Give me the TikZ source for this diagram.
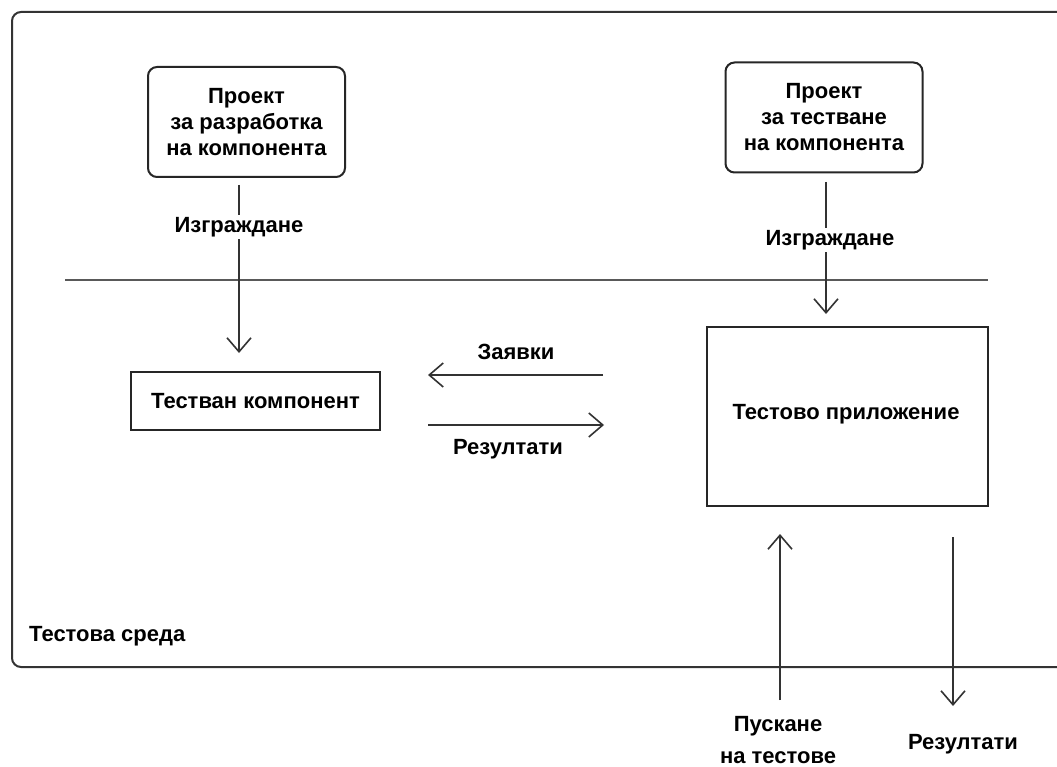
\documentclass[tikz,border=0pt]{standalone}
\usepackage{fontspec}
\setmainfont{Liberation Sans}
\usetikzlibrary{arrows.meta}
\begin{document}
\begin{tikzpicture}[x=1pt,y=-1pt,
  txt/.style={font=\fontsize{22}{26}\selectfont\bfseries, align=center, inner sep=2pt},
  proj/.style={txt, draw=black!85, line width=2pt, rounded corners=9pt, minimum width=197pt, minimum height=110pt},
  blk/.style={txt, draw=black!85, line width=2pt},
  conn/.style={line width=1.6pt, black!80},
  arr/.style={conn, -{Straight Barb[length=14pt, width=24pt, line width=1.6pt]}},
  lbl/.style={txt, fill=white}]
\clip (0,0) rectangle (1057,767);
\fill[white] (0,0) rectangle (1057,767);

% environment frame and separator
\draw[line width=2pt, black!80, rounded corners=9pt] (12,12) rectangle (1080,667);
\draw[line width=2.5pt, black!65] (65,280) -- (988,280);
\node[txt, anchor=west] (env) at (27,636) {Тестова среда};

% projects
\node[proj] (p1) at (246.5,122) {Проект\\за разработка\\на компонента};
\node[proj] (p2) at (824,117.5) {Проект\\за тестване\\на компонента};

% built artefacts
\node[blk, minimum width=249pt, minimum height=58pt] (tc) at (255.5,401) {Тестван компонент};
\node[blk, minimum width=281pt, minimum height=179pt] (ta) at (847.5,416.5) {};
\node[txt] (tatext) at (846,414) {Тестово приложение};

% build steps
\coordinate (b1s) at (239,185);
\coordinate (b1e) at (239,353);
\node[lbl] (b1) at (239,227) {Изграждане};
\draw[conn] (b1s) -- (b1s |- b1.north);
\draw[arr] (b1s |- b1.south) -- (b1e);

\coordinate (b2s) at (826,182);
\coordinate (b2e) at (826,314);
\node[lbl] (b2) at (830,240) {Изграждане};
\draw[conn] (b2s) -- (b2s |- b2.north);
\draw[arr] (b2s |- b2.south) -- (b2e);

% requests and results between application and component
\coordinate (rqs) at (603,375);
\coordinate (rqe) at (428,375);
\coordinate (rss) at (428,425);
\coordinate (rse) at (604,425);
\draw[arr] (rqs) -- (rqe);
\draw[arr] (rss) -- (rse);
\node[txt] (rq) at (516,352) {Заявки};
\node[txt] (rs) at (508,449) {Резултати};

% running tests and collecting results
\node[txt] (run) at (778,740) {Пускане\\[6pt]на тестове};
\node[txt] (res) at (963,744) {Резултати};
\coordinate (ups) at (780,700);
\coordinate (upe) at (780,534);
\coordinate (dns) at (953,537);
\coordinate (dne) at (953,706);
\draw[arr] (ups) -- (upe);
\draw[arr] (dns) -- (dne);
\end{tikzpicture}
\end{document}
